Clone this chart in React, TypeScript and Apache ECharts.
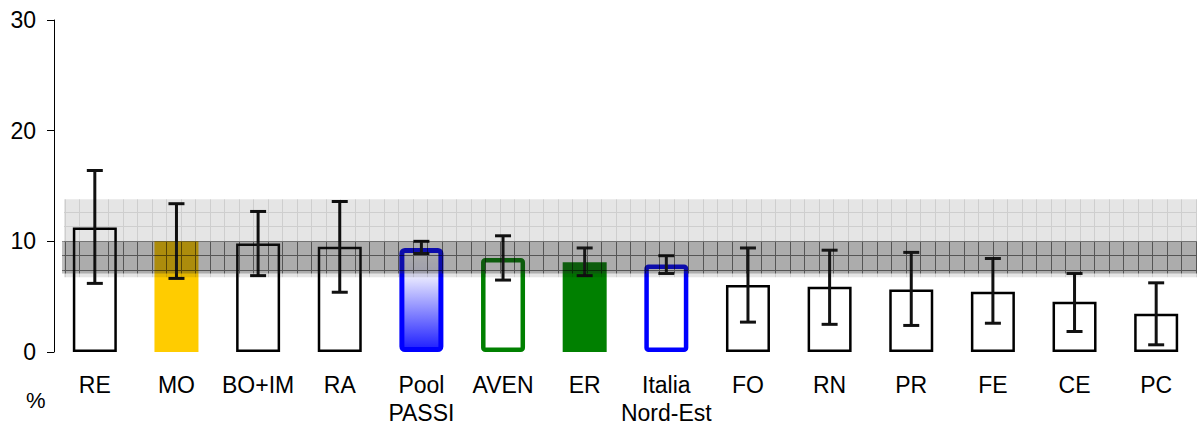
import React, { useEffect, useRef } from "react";
import * as echarts from "echarts";

const categories = ["RE", "MO", "BO+IM", "RA", "Pool\nPASSI", "AVEN", "ER", "Italia\nNord-Est", "FO", "RN", "PR", "FE", "CE", "PC"];
const values = [11.25, 10.0, 9.8, 9.5, 9.4, 8.5, 8.1, 7.9, 6.05, 5.9, 5.65, 5.45, 4.55, 3.45];
const lowerCI = [6.2, 6.65, 6.9, 5.4, 8.9, 6.5, 6.9, 7.1, 2.7, 2.5, 2.4, 2.6, 1.85, 0.65];
const upperCI = [16.4, 13.4, 12.7, 13.6, 10.0, 10.5, 9.4, 8.7, 9.4, 9.2, 9.0, 8.45, 7.1, 6.25];
const poolBand = [6.75, 13.8];
const regionBand = [7.1, 10.0];
const yTicks = [0, 10, 20, 30];

function makePattern(fill: string, line: string) {
  const c = document.createElement("canvas");
  c.width = 29;
  c.height = 29;
  const ctx = c.getContext("2d")!;
  ctx.fillStyle = fill;
  ctx.fillRect(0, 0, 29, 29);
  ctx.fillStyle = line;
  ctx.fillRect(7, 0, 1, 29);
  ctx.fillRect(21, 0, 1, 29);
  ctx.fillRect(0, 9, 7, 1);
  ctx.fillRect(8, 9, 13, 1);
  ctx.fillRect(22, 9, 7, 1);
  ctx.fillRect(0, 23, 7, 1);
  ctx.fillRect(8, 23, 13, 1);
  ctx.fillRect(22, 23, 7, 1);
  return c;
}

export default function App() {
  const ref = useRef<HTMLDivElement>(null);
  useEffect(() => {
    if (!ref.current) return;
    const chart = echarts.init(ref.current, null, { renderer: "svg" });
    const lightPat = makePattern("rgba(0,0,0,0.1)", "rgba(0,0,0,0.1)");
    const darkPat = makePattern("rgba(40,40,40,0.3)", "rgba(0,0,0,0.45)");

    const styleFor = (name: string): any => {
      switch (name) {
        case "MO":
          return { color: "#FFCC00", borderWidth: 0 };
        case "Pool\nPASSI":
          return {
            color: new echarts.graphic.LinearGradient(0, 0, 0, 1, [
              { offset: 0, color: "#ffffff" },
              { offset: 0.28, color: "#e4e4ff" },
              { offset: 1, color: "#1e1eff" },
            ]),
            borderColor: "#0000FF",
            borderWidth: 5,
            borderRadius: 3,
          };
        case "AVEN":
          return { color: "#ffffff", borderColor: "#008000", borderWidth: 4.5, borderRadius: 2 };
        case "ER":
          return { color: "#008000", borderWidth: 0 };
        case "Italia\nNord-Est":
          return { color: "#ffffff", borderColor: "#0000FF", borderWidth: 4.5, borderRadius: 2 };
        default:
          return { color: "#ffffff", borderColor: "#000000", borderWidth: 2.5 };
      }
    };

    const font = "'Liberation Sans', Arial, sans-serif";

    chart.setOption({
      animation: false,
      grid: { left: 54, right: -12, top: 20, bottom: 76 },
      xAxis: {
        type: "category",
        data: categories,
        axisLine: { show: false },
        axisTick: { show: false },
        axisLabel: {
          interval: 0,
          color: "#000",
          fontSize: 23,
          lineHeight: 28,
          margin: 19,
          fontFamily: font,
        },
      },
      yAxis: {
        type: "value",
        min: 0,
        max: 30,
        interval: 10,
        axisLine: { show: true, lineStyle: { color: "#000", width: 1 } },
        axisTick: { show: true, length: 7, lineStyle: { color: "#000" } },
        splitLine: { show: false },
        axisLabel: {
          color: "#000",
          fontSize: 23,
          margin: 18,
          fontFamily: font,
          formatter: (v: number) => (yTicks.includes(v) ? String(v) : ""),
        },
      },
      series: [
        {
          type: "bar",
          barWidth: 44,
          z: 2,
          data: values.map((v, i) => ({ value: v, itemStyle: styleFor(categories[i]) })),
          markArea: {
            silent: true,
            z: 10,
            label: { show: false },
            data: [
              [
                { yAxis: poolBand[0], x: 64, itemStyle: { color: { image: lightPat, repeat: "repeat" } } },
                { yAxis: poolBand[1], x: 1197 },
              ],
              [
                { yAxis: regionBand[0], x: 62, itemStyle: { color: { image: darkPat, repeat: "repeat" } } },
                { yAxis: regionBand[1], x: 1197 },
              ],
            ],
          },
        },
        {
          type: "custom",
          z: 5,
          silent: true,
          data: values.map((_, i) => [i, lowerCI[i], upperCI[i]]),
          encode: { x: 0, y: [1, 2] },
          renderItem: (params: any, api: any) => {
            const x = api.value(0);
            const lo = api.coord([x, api.value(1)]);
            const hi = api.coord([x, api.value(2)]);
            const hw = 8;
            const st = { stroke: "#111", lineWidth: 3 };
            return {
              type: "group",
              children: [
                { type: "line", shape: { x1: lo[0], y1: lo[1], x2: hi[0], y2: hi[1] }, style: st },
                { type: "line", shape: { x1: lo[0] - hw, y1: lo[1], x2: lo[0] + hw, y2: lo[1] }, style: st },
                { type: "line", shape: { x1: hi[0] - hw, y1: hi[1], x2: hi[0] + hw, y2: hi[1] }, style: st },
              ],
            };
          },
        },
      ],
      graphic: [
        {
          type: "text",
          left: 26,
          top: 389,
          style: { text: "%", fontSize: 22, fill: "#000", fontFamily: font },
        },
      ],
    });
    return () => chart.dispose();
  }, []);
  return (
    <div
      ref={ref}
      style={{ position: "fixed", left: 0, top: 0, width: 1197, height: 428, background: "#fff" }}
    />
  );
}
